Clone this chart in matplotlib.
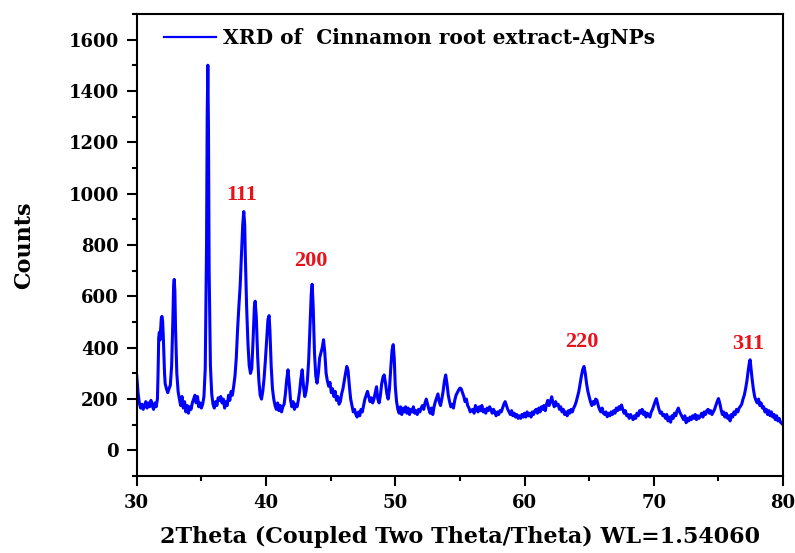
import matplotlib
matplotlib.use("Agg")
import matplotlib.pyplot as plt
from matplotlib.ticker import MultipleLocator

plt.rcParams['font.family'] = ['DejaVu Serif']
plt.rcParams['font.weight'] = 'bold'

# (2theta, counts)
xrd_points = [
    (30.0, 290), (30.1, 225), (30.2, 185), (30.3, 165), (30.4, 180), (30.5, 160),
    (30.6, 175), (30.7, 190), (30.8, 165), (30.9, 185), (31.0, 170), (31.1, 195),
    (31.2, 175), (31.3, 160), (31.4, 185), (31.5, 170), (31.6, 200), (31.65, 300),
    (31.7, 440), (31.75, 460), (31.8, 430), (31.85, 470), (31.9, 515), (31.95, 522),
    (32.0, 505), (32.05, 450), (32.1, 370), (32.15, 300), (32.2, 260), (32.3, 240),
    (32.4, 225), (32.5, 240), (32.6, 255), (32.7, 330), (32.8, 520), (32.85, 640),
    (32.9, 666), (32.95, 620), (33.0, 480), (33.1, 300), (33.2, 230), (33.3, 200),
    (33.4, 175), (33.5, 210), (33.6, 165), (33.7, 190), (33.8, 150), (33.9, 175),
    (34.0, 145), (34.1, 170), (34.2, 160), (34.3, 185), (34.4, 200), (34.5, 215),
    (34.6, 185), (34.7, 210), (34.8, 170), (34.9, 185), (35.0, 165), (35.1, 180),
    (35.2, 210), (35.3, 320), (35.4, 800), (35.45, 1300), (35.5, 1500), (35.55, 1250),
    (35.6, 700), (35.7, 330), (35.8, 220), (35.9, 180), (36.0, 165), (36.1, 190),
    (36.2, 175), (36.3, 205), (36.4, 195), (36.5, 210), (36.6, 185), (36.7, 200),
    (36.8, 165), (36.9, 190), (37.0, 175), (37.1, 215), (37.2, 195), (37.3, 230),
    (37.4, 215), (37.5, 250), (37.6, 290), (37.7, 360), (37.8, 470), (37.9, 560),
    (38.0, 640), (38.1, 760), (38.2, 880), (38.28, 930), (38.35, 880), (38.4, 760),
    (38.5, 560), (38.6, 420), (38.7, 330), (38.8, 300), (38.9, 320), (39.0, 430),
    (39.1, 560), (39.16, 581), (39.25, 520), (39.35, 370), (39.45, 270), (39.55, 215),
    (39.65, 200), (39.75, 230), (39.85, 280), (39.95, 350), (40.05, 430), (40.15, 510),
    (40.24, 525), (40.3, 470), (40.4, 330), (40.5, 240), (40.6, 200), (40.7, 175),
    (40.8, 160), (40.9, 185), (41.0, 155), (41.1, 175), (41.2, 150), (41.3, 170),
    (41.4, 180), (41.5, 220), (41.6, 275), (41.7, 314), (41.8, 260), (41.9, 195),
    (42.0, 170), (42.1, 190), (42.2, 160), (42.3, 180), (42.4, 170), (42.5, 195),
    (42.6, 230), (42.7, 280), (42.8, 314), (42.9, 250), (43.0, 210), (43.1, 230),
    (43.2, 270), (43.3, 350), (43.4, 480), (43.5, 610), (43.57, 647), (43.65, 560),
    (43.75, 380), (43.85, 290), (43.95, 262), (44.05, 300), (44.15, 360), (44.25, 380),
    (44.35, 400), (44.45, 431), (44.55, 380), (44.65, 300), (44.75, 270), (44.85, 250),
    (44.95, 265), (45.05, 225), (45.15, 240), (45.25, 210), (45.35, 230), (45.45, 195),
    (45.55, 210), (45.65, 180), (45.75, 190), (45.85, 220), (45.95, 240), (46.05, 270),
    (46.15, 300), (46.25, 327), (46.35, 310), (46.45, 250), (46.55, 200), (46.65, 175),
    (46.75, 150), (46.85, 160), (46.95, 140), (47.05, 130), (47.15, 150), (47.25, 135),
    (47.35, 160), (47.45, 150), (47.55, 175), (47.65, 200), (47.75, 215), (47.85, 230),
    (47.95, 210), (48.05, 190), (48.15, 205), (48.25, 185), (48.35, 200), (48.45, 225),
    (48.55, 248), (48.65, 200), (48.75, 185), (48.85, 215), (48.95, 260), (49.05, 285),
    (49.14, 294), (49.25, 260), (49.35, 220), (49.45, 200), (49.55, 240), (49.65, 320),
    (49.75, 390), (49.84, 412), (49.92, 360), (50.0, 250), (50.1, 190), (50.2, 160),
    (50.3, 145), (50.4, 170), (50.5, 140), (50.6, 165), (50.7, 150), (50.8, 170),
    (50.9, 145), (51.0, 165), (51.1, 140), (51.2, 160), (51.3, 150), (51.4, 170),
    (51.5, 145), (51.6, 155), (51.7, 140), (51.8, 160), (51.9, 150), (52.0, 165),
    (52.1, 175), (52.2, 160), (52.3, 185), (52.4, 200), (52.5, 180), (52.6, 160),
    (52.7, 145), (52.8, 165), (52.9, 140), (53.0, 170), (53.1, 190), (53.2, 205),
    (53.3, 220), (53.4, 190), (53.5, 175), (53.6, 200), (53.7, 230), (53.8, 270),
    (53.9, 294), (54.0, 260), (54.1, 215), (54.2, 190), (54.3, 170), (54.4, 180),
    (54.5, 165), (54.6, 195), (54.7, 215), (54.8, 225), (54.9, 235), (55.0, 243),
    (55.1, 240), (55.2, 225), (55.3, 210), (55.4, 190), (55.5, 200), (55.6, 175),
    (55.7, 165), (55.8, 150), (55.9, 157), (56.0, 160), (56.1, 145), (56.2, 175),
    (56.3, 165), (56.4, 150), (56.5, 170), (56.6, 155), (56.7, 175), (56.8, 150),
    (56.9, 160), (57.0, 145), (57.1, 165), (57.2, 155), (57.3, 170), (57.4, 160),
    (57.5, 145), (57.6, 160), (57.7, 150), (57.8, 135), (57.9, 150), (58.0, 140),
    (58.1, 155), (58.2, 150), (58.3, 165), (58.4, 180), (58.5, 190), (58.6, 175),
    (58.7, 160), (58.8, 150), (58.9, 140), (59.0, 155), (59.1, 135), (59.2, 145),
    (59.3, 130), (59.4, 140), (59.5, 125), (59.6, 135), (59.7, 125), (59.8, 140),
    (59.9, 130), (60.0, 145), (60.1, 130), (60.2, 150), (60.3, 135), (60.4, 145),
    (60.5, 130), (60.6, 150), (60.7, 140), (60.8, 155), (60.9, 160), (61.0, 145),
    (61.1, 165), (61.2, 150), (61.3, 170), (61.4, 160), (61.5, 175), (61.6, 155),
    (61.7, 180), (61.8, 195), (61.9, 175), (62.0, 190), (62.1, 209), (62.2, 185),
    (62.3, 170), (62.4, 190), (62.5, 175), (62.6, 180), (62.7, 160), (62.8, 170),
    (62.9, 150), (63.0, 160), (63.1, 140), (63.2, 150), (63.3, 135), (63.4, 155),
    (63.5, 145), (63.6, 160), (63.7, 150), (63.8, 165), (63.9, 175), (64.0, 190),
    (64.1, 210), (64.2, 230), (64.3, 260), (64.4, 290), (64.5, 315), (64.6, 327),
    (64.7, 300), (64.8, 260), (64.9, 230), (65.0, 209), (65.1, 190), (65.2, 175),
    (65.3, 190), (65.4, 180), (65.5, 200), (65.6, 196), (65.7, 175), (65.8, 160),
    (65.9, 150), (66.0, 165), (66.1, 145), (66.2, 140), (66.3, 150), (66.4, 131),
    (66.5, 145), (66.6, 135), (66.7, 150), (66.8, 140), (66.9, 155), (67.0, 145),
    (67.1, 165), (67.2, 155), (67.3, 170), (67.4, 160), (67.5, 177), (67.6, 160),
    (67.7, 145), (67.8, 155), (67.9, 135), (68.0, 140), (68.1, 125), (68.2, 140),
    (68.3, 130), (68.4, 120), (68.5, 135), (68.6, 125), (68.7, 145), (68.8, 135),
    (68.9, 155), (69.0, 145), (69.1, 160), (69.2, 140), (69.3, 150), (69.4, 130),
    (69.5, 145), (69.6, 135), (69.7, 130), (69.8, 150), (69.9, 160), (70.0, 175),
    (70.1, 190), (70.2, 202), (70.3, 180), (70.4, 160), (70.5, 145), (70.6, 150),
    (70.7, 135), (70.8, 140), (70.9, 125), (71.0, 140), (71.1, 115), (71.2, 130),
    (71.3, 110), (71.4, 135), (71.5, 125), (71.6, 145), (71.7, 135), (71.8, 155),
    (71.9, 165), (72.0, 150), (72.1, 140), (72.2, 130), (72.3, 120), (72.4, 135),
    (72.5, 108), (72.6, 125), (72.7, 115), (72.8, 130), (72.9, 120), (73.0, 135),
    (73.1, 125), (73.2, 140), (73.3, 120), (73.4, 135), (73.5, 125), (73.6, 134),
    (73.7, 145), (73.8, 130), (73.9, 150), (74.0, 140), (74.1, 155), (74.2, 160),
    (74.3, 145), (74.4, 155), (74.5, 140), (74.6, 150), (74.7, 160), (74.8, 175),
    (74.9, 190), (75.0, 202), (75.1, 185), (75.2, 160), (75.3, 140), (75.4, 150),
    (75.5, 130), (75.6, 145), (75.7, 125), (75.8, 135), (75.9, 115), (76.0, 140),
    (76.1, 130), (76.2, 150), (76.3, 140), (76.4, 160), (76.5, 150), (76.6, 165),
    (76.7, 172), (76.8, 180), (76.9, 200), (77.0, 215), (77.1, 240), (77.2, 270),
    (77.3, 310), (77.4, 345), (77.45, 353), (77.5, 330), (77.6, 280), (77.7, 240),
    (77.8, 210), (77.9, 195), (78.0, 185), (78.1, 200), (78.2, 175), (78.3, 185),
    (78.4, 165), (78.5, 170), (78.6, 150), (78.7, 160), (78.8, 140), (78.9, 155),
    (79.0, 135), (79.1, 150), (79.2, 130), (79.3, 140), (79.4, 120), (79.5, 135),
    (79.6, 115), (79.7, 125), (79.8, 110), (79.9, 105), (80.0, 100),
]
two_theta = [p[0] for p in xrd_points]
counts = [p[1] for p in xrd_points]

hkl_labels = ['111', '200', '220', '311']
hkl_x = [38.1, 43.5, 64.4, 77.3]
hkl_y = [995, 737, 423, 416]

fig = plt.figure(figsize=(7.95, 5.53), dpi=100)
ax = fig.add_axes([0.172, 0.139, 0.813, 0.836])

ax.plot(two_theta, counts, color='#0000ff', lw=2.2,
        label='XRD of  Cinnamon root extract-AgNPs')

for lab, xx, yy in zip(hkl_labels, hkl_x, hkl_y):
    ax.text(xx, yy, lab, color='#e8121b', fontsize=16, fontweight='bold',
            family='Liberation Serif', ha='center', va='center')

ax.set_xlim(30, 80)
ax.set_ylim(-100, 1700)
ax.xaxis.set_major_locator(MultipleLocator(10))
ax.xaxis.set_minor_locator(MultipleLocator(5))
ax.yaxis.set_major_locator(MultipleLocator(200))
ax.yaxis.set_minor_locator(MultipleLocator(100))
ax.tick_params(which='both', direction='out', top=False, right=False,
               labelsize=13, width=1.5)
ax.tick_params(which='major', length=7, pad=6)
ax.tick_params(which='minor', length=3.5)
for s in ax.spines.values():
    s.set_linewidth(1.5)

ax.set_xlabel('2Theta (Coupled Two Theta/Theta) WL=1.54060', fontsize=16,
              fontweight='bold', labelpad=10)
ax.set_ylabel('Counts', fontsize=16, fontweight='bold', labelpad=24)

leg = ax.legend(loc='upper left', frameon=False, fontsize=14.5, handlelength=2.6,
                handletextpad=0.35, borderaxespad=0.3, bbox_to_anchor=(0.02, 1.0))
leg.get_lines()[0].set_linewidth(1.6)

plt.savefig('out.png', dpi=100)
